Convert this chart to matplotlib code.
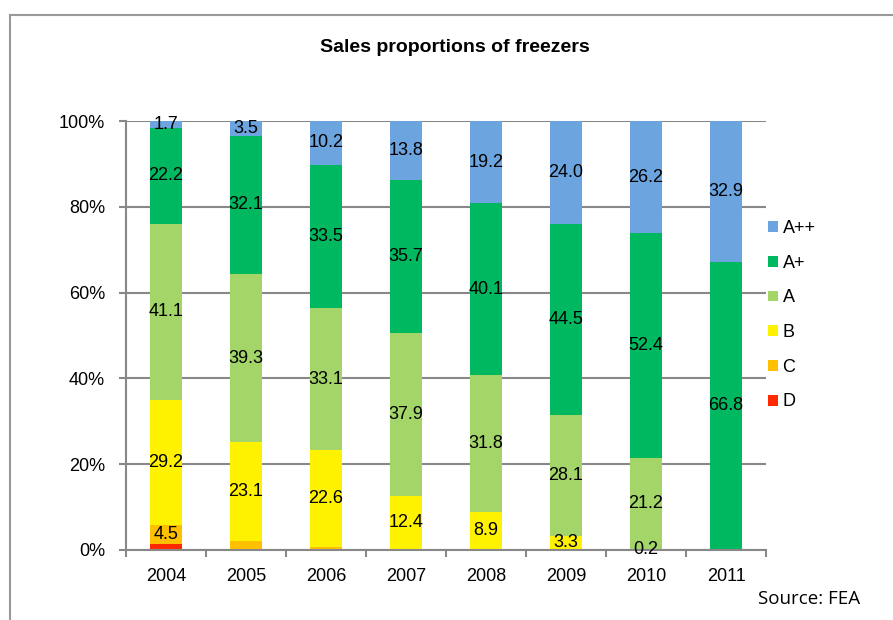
import matplotlib
matplotlib.use("Agg")
import matplotlib.pyplot as plt
from matplotlib.patches import Patch
from matplotlib.lines import Line2D
import numpy as np

plt.rcParams['font.family'] = ['Liberation Sans', 'DejaVu Sans']

years = ['2004', '2005', '2006', '2007', '2008', '2009', '2010', '2011']
classes = ['D', 'C', 'B', 'A', 'A+', 'A++']
D_vals = [1.3, 0.0, 0.0, 0.0, 0.0, 0.0, 0.0, 0.0]
C_vals = [4.5, 2.0, 0.6, 0.2, 0.0, 0.0, 0.0, 0.0]
B_vals = [29.2, 23.1, 22.6, 12.4, 8.9, 3.3, 0.2, 0.0]
A_vals = [41.1, 39.3, 33.1, 37.9, 31.8, 28.1, 21.2, 0.3]
Ap_vals = [22.2, 32.1, 33.5, 35.7, 40.1, 44.5, 52.4, 66.8]
App_vals = [1.7, 3.5, 10.2, 13.8, 19.2, 24.0, 26.2, 32.9]
# which segments carry a data label
D_lab = [False] * 8
C_lab = [True, False, False, False, False, False, False, False]
B_lab = [True, True, True, True, True, True, True, False]
A_lab = [True, True, True, True, True, True, True, False]
Ap_lab = [True] * 8
App_lab = [True] * 8

colors = ['#FF2A00', '#FFC000', '#FFF200', '#A3D569', '#00B860', '#6BA4DE']
series = [D_vals, C_vals, B_vals, A_vals, Ap_vals, App_vals]
labmask = [D_lab, C_lab, B_lab, A_lab, Ap_lab, App_lab]

fig = plt.figure(figsize=(8.93, 6.2), dpi=100)
ax = fig.add_axes([126/893, 1-550/620, 640/893, 429/620])

x = np.arange(len(years))
bottom = np.zeros(len(years))
handles = []
for name, vals, col, mask in zip(classes, series, colors, labmask):
    v = np.array(vals)
    ax.bar(x, v, width=0.395, bottom=bottom, color=col, edgecolor='none', zorder=3)
    for i in range(len(years)):
        if mask[i]:
            ax.text(x[i], bottom[i] + v[i] / 2, f"{v[i]:.1f}", ha='center', va='center',
                    fontsize=13, color='black', zorder=5)
    bottom += v
    handles.append(Patch(facecolor=col, edgecolor='none', label=name))

ax.set_xlim(-0.5, 7.5)
ax.set_ylim(0, 100)
ax.set_yticks([0, 20, 40, 60, 80, 100])
ax.set_yticklabels(['0%', '20%', '40%', '60%', '80%', '100%'], fontsize=13)
ax.set_xticks(x)
ax.set_xticklabels(years, fontsize=13)
ax.tick_params(axis='x', length=0, pad=13)
ax.set_xticks(np.arange(-0.5, 8.0, 1.0), minor=True)
ax.tick_params(axis='x', which='minor', length=5, color='#888888', width=1.5, direction='out')
ax.tick_params(axis='y', length=5, color='#888888', width=1.5, pad=10)
ax.yaxis.grid(True, color='#888888', linewidth=1.5, zorder=0)
ax.set_axisbelow(True)
for s in ['top', 'right']:
    ax.spines[s].set_visible(False)
for s in ['left', 'bottom']:
    ax.spines[s].set_color('#888888')
    ax.spines[s].set_linewidth(1.5)
ax.spines['bottom'].set_zorder(4)

leg = fig.legend(handles=handles[::-1], loc='upper left',
                 bbox_to_anchor=(759/893, 1-211/620), frameon=False, fontsize=13,
                 handlelength=0.55, handleheight=0.55, handletextpad=0.25, labelspacing=0.98,
                 borderpad=0)

fig.text(455/893, 1-48/620, 'Sales proportions of freezers', ha='center', va='center',
         fontsize=14, fontweight='bold')
fig.text(860/893, 1-599/620, 'Source: FEA', ha='right', va='center', fontsize=13.5,
         family=['Open Sans', 'DejaVu Sans'])

# outer border (left and top)
fig.add_artist(Line2D([10/893, 10/893], [0, 1-15/620], color='#999999', linewidth=1.5))
fig.add_artist(Line2D([10/893, 1], [1-15/620, 1-15/620], color='#999999', linewidth=1.5))

fig.savefig('out.png', dpi=100)
